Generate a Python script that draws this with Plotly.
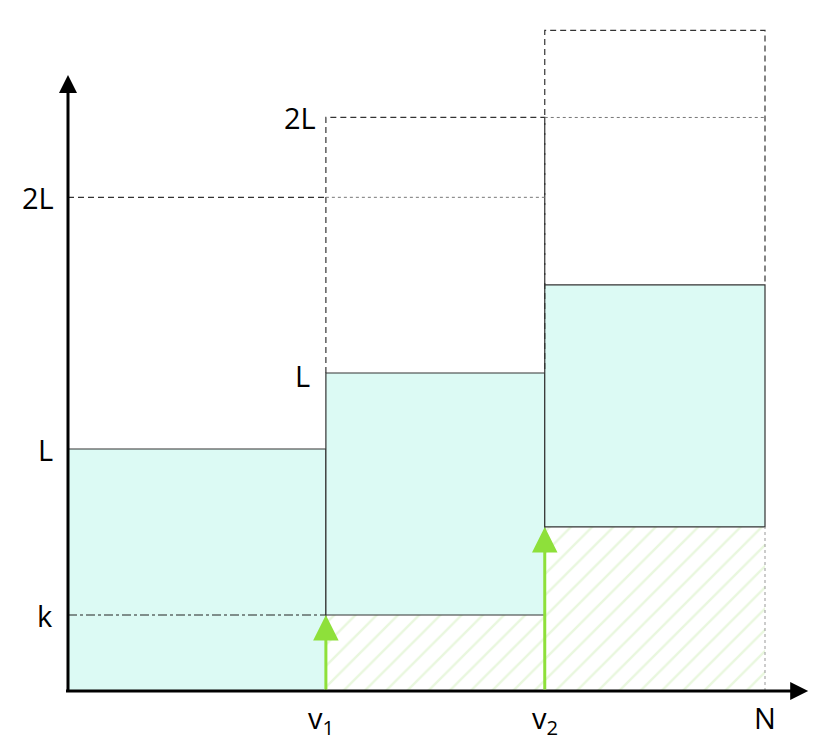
import plotly.graph_objects as go

# step boundaries along N (units: N = 1)
edges = [0.0, 0.370, 0.684, 1.0]
# filled steps: bottom and top of each band (units: L = 1)
bottoms = [0.0, 0.314, 0.678]
tops = [1.0, 1.314, 1.678]
# dashed upper limits (2L above each bottom)
dashed_tops = [2.04, 2.37, 2.73]
k_level = 0.314
x_labels = ["v<sub>1</sub>", "v<sub>2</sub>", "N"]
x_label_pos = [0.363, 0.684, 1.0]

W, H = 832, 753
# page body adds an 8px margin, so the origin is placed 8px up-left
x0_px, y0_px = 60, 683
x_unit, y_unit = 697, 242

FILL = "#dcfaf4"
EDGE = "#333333"
GREEN = "#8ee03a"
FONT = "Open Sans"
DASH = "6px,4px"

fig = go.Figure()

# hatched areas below steps 2 and 3
for i in (1, 2):
    xa, xb = edges[i], edges[i + 1]
    fig.add_trace(go.Scatter(
        x=[xa, xb, xb, xa, xa], y=[0, 0, bottoms[i], bottoms[i], 0],
        mode="lines", fill="toself", line=dict(width=0),
        fillcolor="white",
        fillpattern=dict(shape="/", fgcolor="#d3f0bd", bgcolor="white", size=15, solidity=0.16),
        hoverinfo="skip", showlegend=False))

# filled steps
for i in range(3):
    xa, xb = edges[i], edges[i + 1]
    fig.add_trace(go.Scatter(
        x=[xa, xb, xb, xa, xa], y=[bottoms[i], bottoms[i], tops[i], tops[i], bottoms[i]],
        mode="lines", fill="toself", fillcolor=FILL, line=dict(color=EDGE, width=1.2),
        hoverinfo="skip", showlegend=False))

# dashed boxes above steps 2 and 3
for i in (1, 2):
    xa, xb = edges[i], edges[i + 1]
    fig.add_trace(go.Scatter(
        x=[xa, xa, xb, xb], y=[tops[i], dashed_tops[i], dashed_tops[i], tops[i]],
        mode="lines", line=dict(color="#333333", width=1.2, dash=DASH),
        hoverinfo="skip", showlegend=False))

# 2L line for step 1 and dotted continuations
fig.add_trace(go.Scatter(x=[edges[0], edges[1]], y=[dashed_tops[0]] * 2, mode="lines",
                         line=dict(color="#333333", width=1.2, dash=DASH),
                         hoverinfo="skip", showlegend=False))
for i in (0, 1):
    fig.add_trace(go.Scatter(x=[edges[i + 1], edges[i + 2]], y=[dashed_tops[i]] * 2, mode="lines",
                             line=dict(color="#777777", width=1, dash="dot"),
                             hoverinfo="skip", showlegend=False))
fig.add_trace(go.Scatter(x=[edges[3], edges[3]], y=[0, bottoms[2]], mode="lines",
                         line=dict(color="#999999", width=1, dash="dot"),
                         hoverinfo="skip", showlegend=False))

# k level
fig.add_trace(go.Scatter(x=[edges[0], edges[1]], y=[k_level] * 2, mode="lines",
                         line=dict(color="#222222", width=1, dash="dashdot"),
                         hoverinfo="skip", showlegend=False))

ann = []
# axes arrows
ann.append(dict(x=1.062, y=0, ax=-0.005, ay=0, xref="x", yref="y", axref="x", ayref="y",
                showarrow=True, arrowhead=2, arrowsize=1.2, arrowwidth=3, arrowcolor="black", text=""))
ann.append(dict(x=0, y=2.545, ax=0, ay=-0.01, xref="x", yref="y", axref="x", ayref="y",
                showarrow=True, arrowhead=2, arrowsize=1.2, arrowwidth=3, arrowcolor="black", text=""))
# green arrows
for i in (1, 2):
    ann.append(dict(x=edges[i], y=bottoms[i], ax=edges[i], ay=0, xref="x", yref="y", axref="x", ayref="y",
                    showarrow=True, arrowhead=2, arrowsize=1.7, arrowwidth=3, arrowcolor=GREEN, text=""))

txt = dict(family=FONT, size=29, color="black")
# y labels
for lab, xv, yv in [("L", -0.019, tops[0]), ("k", -0.019, k_level), ("2L", -0.017, dashed_tops[0]),
                    ("2L", edges[1] - 0.012, dashed_tops[1]), ("L", edges[1] - 0.02, tops[1] - 0.01)]:
    ann.append(dict(x=xv, y=yv, xref="x", yref="y", text=lab, showarrow=False,
                    xanchor="right", yanchor="middle", font=txt))
# x labels
for lab, xv in zip(x_labels, x_label_pos):
    ann.append(dict(x=xv, y=-0.02, xref="x", yref="y", text=lab, showarrow=False,
                    xanchor="center", yanchor="top", font=txt))

fig.update_layout(
    width=W, height=H, margin=dict(l=0, r=0, t=0, b=0),
    paper_bgcolor="white", plot_bgcolor="white",
    xaxis=dict(range=[-x0_px / x_unit, (W - x0_px) / x_unit], visible=False, fixedrange=True),
    yaxis=dict(range=[(y0_px - H) / y_unit, y0_px / y_unit], visible=False, fixedrange=True),
    annotations=ann, showlegend=False,
)

fig.write_html("out.html")
